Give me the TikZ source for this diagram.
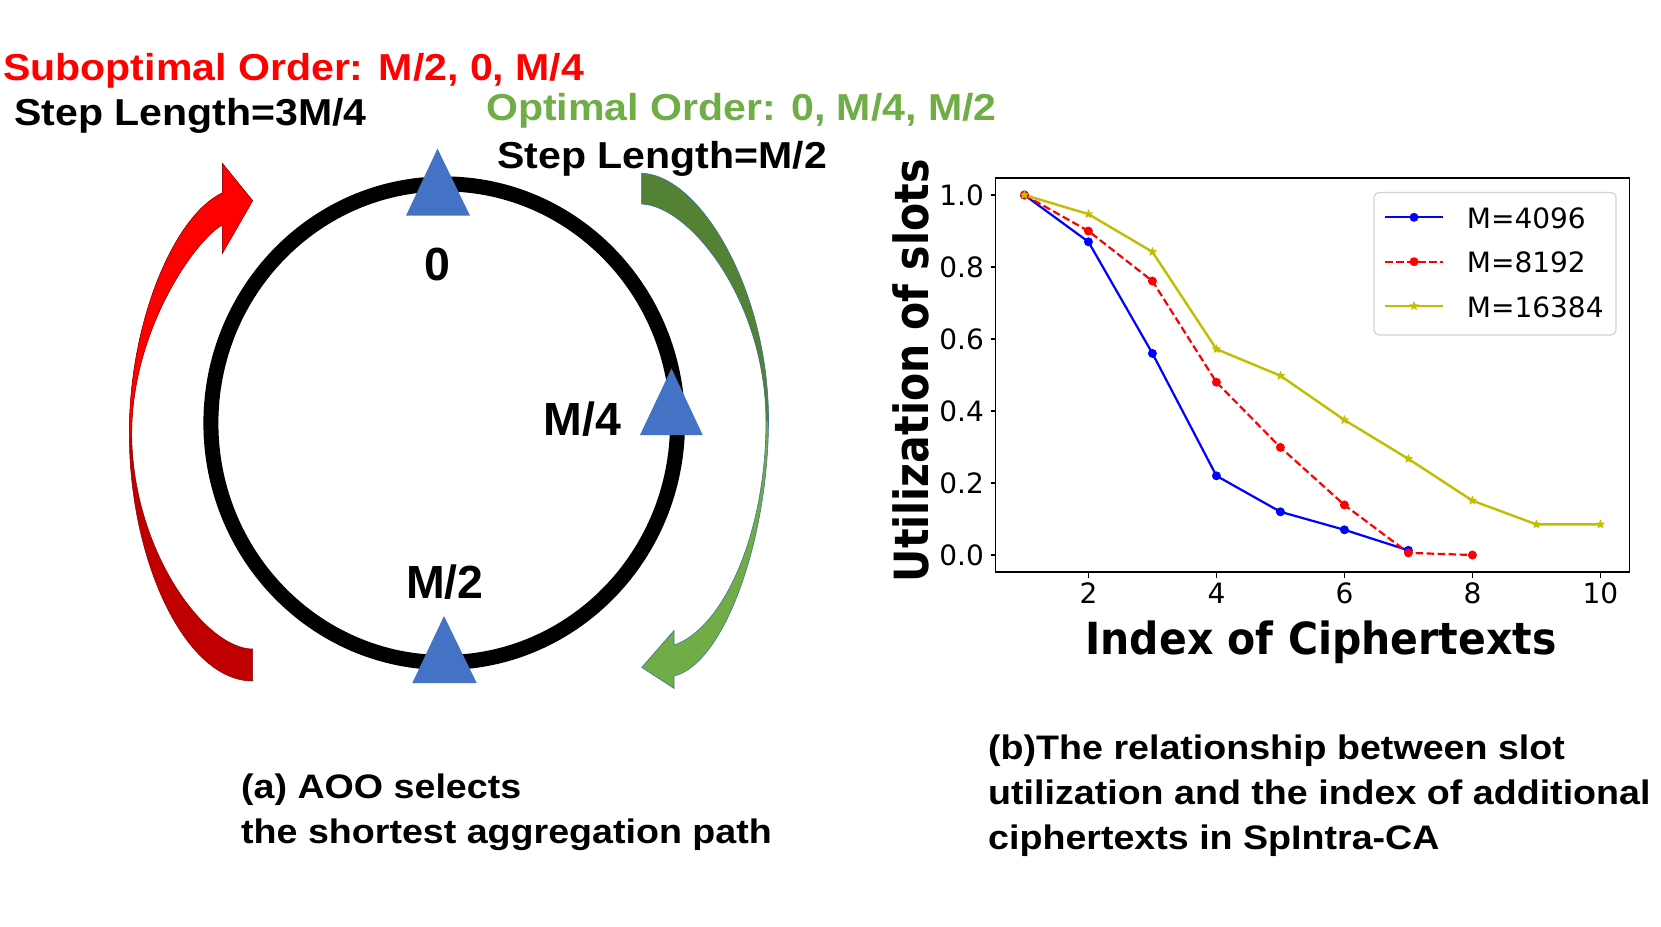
\documentclass[tikz,border=0pt]{standalone}
\usepackage{fontspec}
\usepackage{graphicx}
\setmainfont{Liberation Sans}
\newfontfamily\dejavu{DejaVu Sans}
\usetikzlibrary{shapes.geometric}
\definecolor{pptred}{HTML}{FF0000}
\definecolor{pptdarkred}{HTML}{C00000}
\definecolor{pptgreen}{HTML}{70AD47}
\definecolor{pptdarkgreen}{HTML}{548235}
\definecolor{pptblue}{HTML}{4472C4}
\definecolor{pptedge}{HTML}{41719C}
\definecolor{mplblue}{HTML}{0000FF}
\definecolor{mplred}{HTML}{FF0000}
\definecolor{mplyellow}{rgb}{0.75,0.75,0}
\newcommand{\hstr}[2]{\scalebox{#1}[1]{#2}}
\newcommand{\vstr}[2]{\scalebox{1}[#1]{#2}}
\begin{document}
\begin{tikzpicture}[x=1pt,y=-1pt,
  toptext/.style={inner sep=0pt, anchor=base west, font=\bfseries\fontsize{37.5}{45}\selectfont},
  captext/.style={inner sep=0pt, anchor=base west, font=\bfseries\fontsize{34}{41}\selectfont},
  ringlabel/.style={inner sep=0pt, anchor=base, font=\bfseries\fontsize{46.5}{55}\selectfont},
  tri/.style={fill=pptblue},
  ticklab/.style={inner sep=0pt, font=\dejavu\fontsize{28}{34}\selectfont},
  axlab/.style={inner sep=0pt, font=\dejavu\bfseries\fontsize{41}{49}\selectfont},
  bluemk/.style={circle, fill=mplblue, inner sep=0pt, minimum size=9pt},
  redmk/.style={circle, fill=mplred, inner sep=0pt, minimum size=9pt},
  starmk/.style={star, star points=5, star point ratio=2.3, fill=mplyellow, inner sep=0pt, minimum size=10pt},
  bluel/.style={mplblue, line width=2.2pt},
  redl/.style={mplred, line width=2.2pt, dash pattern=on 7.5pt off 3.5pt},
  yell/.style={mplyellow, line width=2.4pt},
  arrowedge/.style={draw=pptedge, line width=0.6pt}
]
\useasboundingbox (0,0) rectangle (1661,926);
\fill[white] (0,0) rectangle (1661,926);

% ---------- red curved arrow ----------
\path[save path=\redarrowpath]
  (252.7,681) .. controls (185,681) and (129,560) .. (129.3,433)
  .. controls (129.3,320) and (175,215) .. (222.3,192.9)
  -- (222.3,163.2) -- (252.7,200.7) -- (222.3,253.6) -- (222.3,225)
  .. controls (195,240) and (132,330) .. (131.7,433)
  .. controls (132,550) and (205,649) .. (252.7,649) -- cycle;
\path[use path=\redarrowpath, fill=pptdarkred];
\begin{scope}
  \clip (0,0) rectangle (420,433);
  \path[use path=\redarrowpath, fill=pptred];
\end{scope}
\path[use path=\redarrowpath, draw=pptdarkred!70!black, line width=0.5pt];

% ---------- green curved arrow ----------
\path[save path=\greenarrowpath]
  (641.7,173.3) .. controls (700,175) and (768.5,290) .. (768.5,420)
  .. controls (768.5,540) and (724,664) .. (674,676)
  -- (674,688.4) -- (641.7,667.4) -- (674,630.5) -- (674,645)
  .. controls (720,630) and (766,540) .. (766,420)
  .. controls (765,300) and (690,206) .. (641.7,204) -- cycle;
\path[use path=\greenarrowpath, fill=pptgreen];
\begin{scope}
  \clip (600,0) rectangle (800,420);
  \path[use path=\greenarrowpath, fill=pptdarkgreen];
\end{scope}
\path[use path=\greenarrowpath, arrowedge];

% ---------- ring ----------
\draw[line width=15pt] (444.2,423.2) ellipse [x radius=233.3, y radius=239.3];

% ---------- triangles ----------
\fill[tri] (406,215.7) -- (437.5,148.6) -- (470,215.7) -- cycle;
\fill[tri] (640,435) -- (671.5,368.4) -- (702.7,435) -- cycle;
\fill[tri] (412.3,683) -- (444,616) -- (476.7,683) -- cycle;

% ---------- ring labels ----------
\node[ringlabel] (lzero) at (437.5,280) {0};
\node[ringlabel] (lquarter) at (582.5,435.4) {M/4};
\node[ringlabel] (lhalf) at (445,598.3) {M/2};

% ---------- top texts ----------
\node[toptext, text=pptred] (subopt) at (3,80) {\hstr{1.095}{Suboptimal Order: M/2, 0, M/4}};
\node[toptext] (steplong) at (14,125) {\hstr{1.095}{Step Length=3M/4}};
\node[toptext, text=pptgreen] (opt) at (486,120) {\hstr{1.095}{Optimal Order: 0, M/4, M/2}};
\node[toptext] (stepshort) at (497,168.3) {\hstr{1.095}{Step Length=M/2}};

% ---------- captions ----------
\node[captext] (capa1) at (241,798) {\hstr{1.106}{(a) AOO selects}};
\node[captext] (capa2) at (241,843) {\hstr{1.106}{the shortest aggregation path}};
\node[captext] (capb1) at (988,759) {\hstr{1.106}{(b)The relationship between slot}};
\node[captext] (capb2) at (988,804) {\hstr{1.106}{utilization and the index of additional}};
\node[captext] (capb3) at (988,849) {\hstr{1.106}{ciphertexts in SpIntra-CA}};

% ---------- plot ----------
\begin{scope}[shift={(960.4,555)}, x=64pt, y=360pt]
  \draw[bluel] (1,1.0) -- (2,0.87) -- (3,0.56) -- (4,0.22) -- (5,0.12) -- (6,0.07) -- (7,0.013);
  \draw[redl] (1,1.0) -- (2,0.90) -- (3,0.761) -- (4,0.48) -- (5,0.299) -- (6,0.139) -- (7,0.006) -- (8,0.0);
  \draw[yell] (1,1.0) -- (2,0.947) -- (3,0.842) -- (4,0.572) -- (5,0.498) -- (6,0.375) -- (7,0.267) -- (8,0.151) -- (9,0.085) -- (10,0.085);
  \foreach \u/\v in {1/1.0,2/0.87,3/0.56,4/0.22,5/0.12,6/0.07,7/0.013}
    \node[bluemk] (bm\u) at (\u,\v) {};
  \foreach \u/\v in {1/1.0,2/0.90,3/0.761,4/0.48,5/0.299,6/0.139,7/0.006,8/0.0}
    \node[redmk] (rm\u) at (\u,\v) {};
  \foreach \u/\v in {1/1.0,2/0.947,3/0.842,4/0.572,5/0.498,6/0.375,7/0.267,8/0.151,9/0.085,10/0.085}
    \node[starmk] (ym\u) at (\u,\v) {};
  % ticks
  \foreach \u in {2,4,6,8,10} {
    \draw[line width=1.2pt] (\u,-0.05) -- ++(0,-5pt);
    \node[ticklab, anchor=north] (xt\u) at ([yshift=-10pt]\u,-0.05) {\u};
  }
  \foreach \v/\lab in {0/0.0,0.2/0.2,0.4/0.4,0.6/0.6,0.8/0.8,1/1.0} {
    \draw[line width=1.2pt] (0.55,\v) -- ++(-5pt,0);
    \node[ticklab, anchor=east] (yt\lab) at ([xshift=-11.5pt]0.55,\v) {\lab};
  }
\end{scope}
\draw[line width=1.2pt] (995.7,178) rectangle (1629.2,572);

% legend
\draw[rounded corners=5pt, draw=black!18, fill=white, line width=1.2pt] (1374,192.5) rectangle (1616,335);
\draw[bluel] (1385,217.3) -- (1443,217.3);
\node[bluemk] (lgb) at (1414,217.3) {};
\node[ticklab, anchor=base west] (lgbt) at (1466.7,228.3) {M=4096};
\draw[redl] (1385,261.7) -- (1443,261.7);
\node[redmk] (lgr) at (1414,261.7) {};
\node[ticklab, anchor=base west] (lgrt) at (1466.7,272.7) {M=8192};
\draw[yell] (1385,306) -- (1443,306);
\node[starmk] (lgy) at (1414,306) {};
\node[ticklab, anchor=base west] (lgyt) at (1466.7,317) {M=16384};

% axis labels
\node[axlab, rotate=90] (ylab) at (911,370.8) {\vstr{1.15}{Utilization of slots}};
\node[axlab, anchor=base] (xlab) at (1321,654) {\vstr{1.08}{Index of Ciphertexts}};
\end{tikzpicture}
\end{document}
